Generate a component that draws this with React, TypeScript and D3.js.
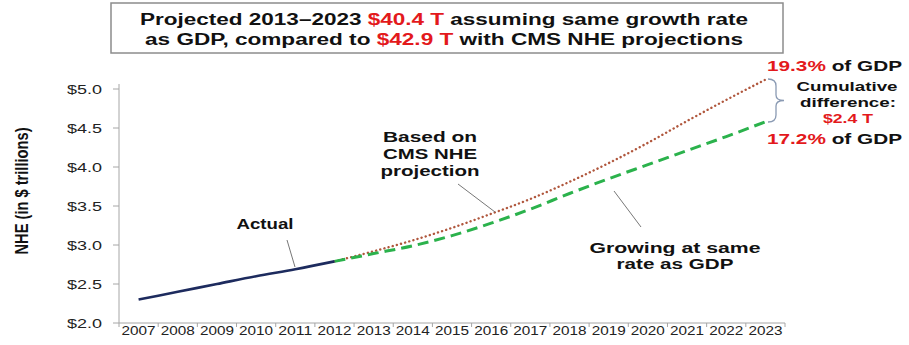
import React from "react";
import * as d3 from "d3";

const years = ["2007","2008","2009","2010","2011","2012","2013","2014","2015","2016","2017","2018","2019","2020","2021","2022","2023"];
const yTicks = [2.0, 2.5, 3.0, 3.5, 4.0, 4.5, 5.0];
const actualYears = ["2007","2008","2009","2010","2011","2012"];
const actualValues = [2.30, 2.40, 2.50, 2.60, 2.69, 2.79];
const projYears = ["2012","2013","2014","2015","2016","2017","2018","2019","2020","2021","2022","2023"];
const cmsValues = [2.79, 2.92, 3.06, 3.22, 3.40, 3.59, 3.81, 4.05, 4.31, 4.59, 4.86, 5.12];
const gdpValues = [2.79, 2.89, 2.99, 3.12, 3.28, 3.46, 3.66, 3.85, 4.03, 4.21, 4.39, 4.58];

const FONT = "'Liberation Sans', Arial, sans-serif";
const RED = "#e3191c";

type TP = { x: number; y: number; w: number; size: number; anchor?: string; fill?: string; weight?: string; children: React.ReactNode };
const T = ({ x, y, w, size, anchor = "middle", fill = "#111", weight = "bold", children }: TP) => (
  <text x={x} y={y} textLength={w} lengthAdjust="spacingAndGlyphs" fontSize={size} fontWeight={weight}
    fontFamily={FONT} textAnchor={anchor} fill={fill}>{children}</text>
);

export default function App() {
  const W = 909, H = 345;
  const x = d3.scaleBand<string>().domain(years).range([119, 785]).paddingInner(0).paddingOuter(0);
  const y = d3.scaleLinear().domain([2, 5]).range([323, 89]);
  const cx = (d: string) => (x(d) as number) + x.bandwidth() / 2;

  const line = d3.line<[string, number]>().x(d => cx(d[0])).y(d => y(d[1])).curve(d3.curveMonotoneX);
  const actual = line(actualYears.map((d, i) => [d, actualValues[i]]));
  const cms = line(projYears.map((d, i) => [d, cmsValues[i]]));
  const gdp = line(projYears.map((d, i) => [d, gdpValues[i]]));

  const axisColor = "#a6a6a6";
  const boundaries = years.map(d => x(d) as number).concat([785]);

  return (
    <svg width={W} height={H} style={{ position: "absolute", left: 0, top: 0, background: "#fff" }}>
      {/* title box */}
      <rect x={111} y={3} width={672} height={50} fill="#fff" stroke="#8c8c8c" strokeWidth={1.5} />
      <T x={444} y={25} w={608} size={16}>
        Projected 2013–2023 <tspan fill={RED}>$40.4 T</tspan> assuming same growth rate
      </T>
      <T x={444} y={45} w={598} size={16}>
        as GDP, compared to <tspan fill={RED}>$42.9 T</tspan> with CMS NHE projections
      </T>

      {/* y axis */}
      <line x1={119} x2={119} y1={84} y2={323} stroke={axisColor} strokeWidth={1} />
      {yTicks.map(t => (
        <g key={t}>
          <line x1={113} x2={119} y1={y(t)} y2={y(t)} stroke={axisColor} />
          <T x={102} y={y(t) + 4.5} w={35} size={12} anchor="end" fill="#222" weight="normal">
            {"$" + t.toFixed(1)}
          </T>
        </g>
      ))}
      {/* x axis */}
      <line x1={119} x2={785} y1={323} y2={323} stroke={axisColor} />
      {boundaries.map((b, i) => (
        <line key={i} x1={b} x2={b} y1={323} y2={327} stroke={axisColor} />
      ))}
      {years.map(d => (
        <T key={d} x={cx(d)} y={335} w={34} size={12} fill="#222" weight="normal">{d}</T>
      ))}

      {/* y axis title */}
      <text transform="translate(28,191) scale(1.35,1) rotate(-90)" textLength={127} lengthAdjust="spacingAndGlyphs"
        fontSize={14} fontWeight="bold" fontFamily={FONT} textAnchor="middle" fill="#111">NHE (in $ trillions)</text>

      {/* series */}
      <path d={cms || ""} fill="none" stroke="#b0573d" strokeWidth={2.4} strokeDasharray="0.1 4.2" strokeLinecap="round" />
      <path d={gdp || ""} fill="none" stroke="#2bb24c" strokeWidth={3} strokeDasharray="11 6" />
      <path d={actual || ""} fill="none" stroke="#1d2b5e" strokeWidth={2.6} />

      {/* annotations */}
      <line x1={287} y1={240} x2={295} y2={267} stroke="#777" strokeWidth={1} />
      <T x={265} y={229} w={57} size={15}>Actual</T>

      <line x1={458} y1={184} x2={495} y2={212} stroke="#777" strokeWidth={1} />
      <T x={430} y={142} w={94} size={15}>Based on</T>
      <T x={430} y={159} w={94} size={15}>CMS NHE</T>
      <T x={430} y={176} w={99} size={15}>projection</T>

      <line x1={614} y1={191} x2={641} y2={227} stroke="#777" strokeWidth={1} />
      <T x={675} y={253} w={171} size={14}>Growing  at same</T>
      <T x={675} y={269} w={117} size={14}>rate as GDP</T>

      <T x={902} y={71} w={135} size={15} anchor="end">
        <tspan fill={RED}>19.3%</tspan> of GDP
      </T>
      <T x={902} y={144} w={135} size={15} anchor="end">
        <tspan fill={RED}>17.2%</tspan> of GDP
      </T>
      <T x={847} y={91} w={101} size={13}>Cumulative</T>
      <T x={848} y={107} w={96} size={13}>difference:</T>
      <T x={848} y={123} w={50} size={13} fill={RED}>$2.4 T</T>
      <path d="M768,79 Q776,79 776,86 L776,95 Q776,100.5 784,100.5 Q776,100.5 776,106 L776,115 Q776,122 768,122"
        fill="none" stroke="#8a9ab3" strokeWidth={1.3} />
    </svg>
  );
}
